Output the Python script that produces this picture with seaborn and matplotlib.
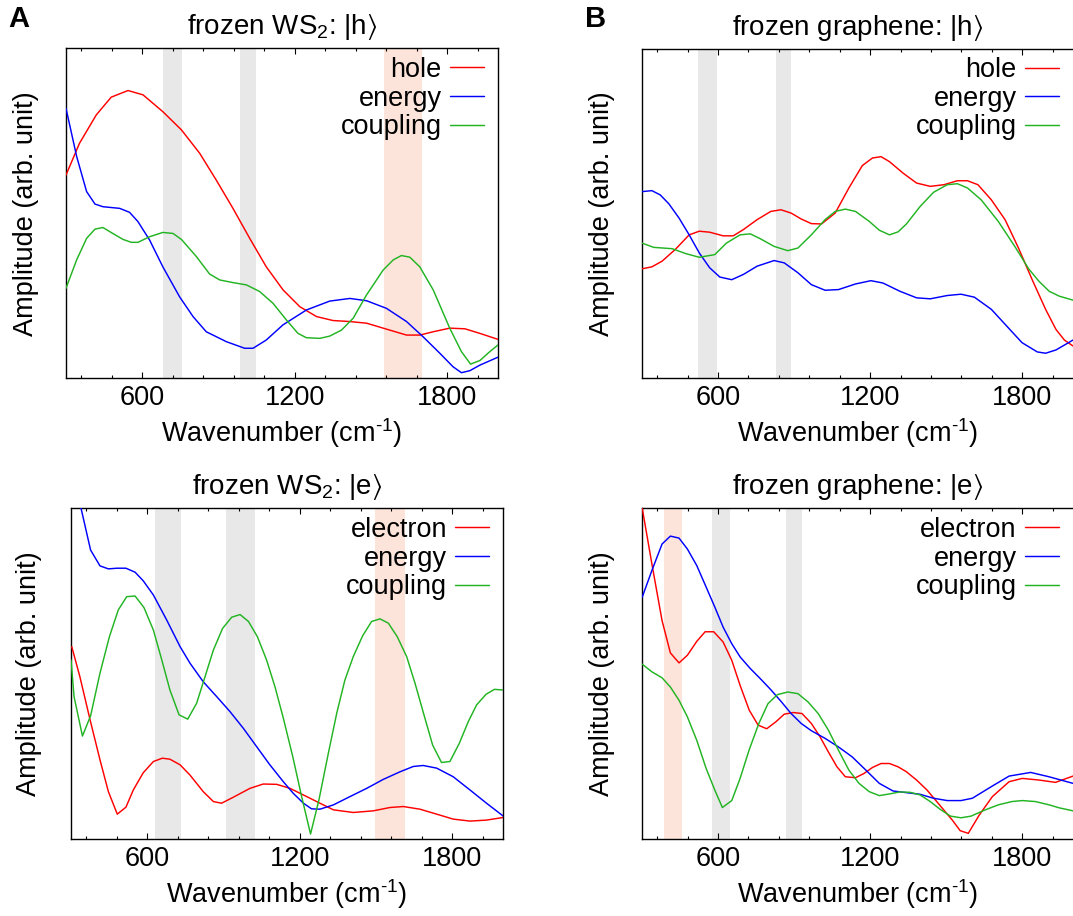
import matplotlib
matplotlib.use("Agg")
import matplotlib.pyplot as plt
import seaborn as sns

# ---------------- data (wavenumber in cm^-1, amplitude in arbitrary units 0-100) ----------------
# Panel A top: frozen WS2 |h>
ws2_h_hole_x = [300, 353, 419, 478, 544, 603, 681, 754, 826, 891, 957, 1023, 1088, 1154, 1220, 1286, 1351, 1417, 1483, 1548, 1640, 1692, 1745, 1810, 1870, 1929, 2000]
ws2_h_hole_y = [61.6, 71.2, 79.8, 85.2, 87.2, 85.9, 80.8, 75.3, 68.2, 60.1, 51.5, 42.4, 33.8, 26.8, 21.7, 18.7, 17.5, 17.2, 16.7, 15.2, 13.1, 13.1, 14.1, 15.2, 15.0, 13.6, 11.8]
ws2_h_energy_x = [300, 342, 381, 414, 445, 511, 550, 583, 629, 681, 747, 800, 852, 931, 1003, 1036, 1088, 1154, 1246, 1338, 1417, 1483, 1561, 1640, 1705, 1771, 1823, 1856, 1889, 1929, 2000]
ws2_h_energy_y = [81.8, 67.2, 56.6, 52.8, 52.0, 51.5, 50.3, 47.5, 41.9, 33.8, 24.7, 18.7, 14.1, 11.1, 9.1, 9.1, 11.6, 16.2, 20.7, 23.4, 24.2, 23.5, 21.2, 17.2, 12.6, 7.6, 3.5, 1.7, 2.3, 4.0, 6.4]
ws2_h_coupling_x = [300, 342, 381, 414, 445, 484, 524, 557, 583, 629, 681, 721, 754, 813, 865, 905, 957, 1010, 1062, 1115, 1167, 1213, 1246, 1299, 1338, 1384, 1430, 1483, 1548, 1588, 1620, 1653, 1692, 1745, 1810, 1856, 1892, 1929, 1968, 2000]
ws2_h_coupling_y = [27.3, 35.9, 42.4, 45.2, 45.7, 43.9, 42.1, 41.2, 41.2, 42.9, 44.2, 43.9, 42.1, 36.9, 31.6, 29.8, 29.0, 28.3, 26.3, 22.7, 17.7, 13.6, 12.3, 12.1, 12.8, 14.6, 18.2, 25.3, 32.8, 35.9, 37.2, 36.7, 33.8, 26.8, 15.2, 8.1, 4.3, 5.4, 8.1, 10.1]

# Panel B top: frozen graphene |h>
gr_h_hole_x = [300, 339, 379, 433, 486, 526, 567, 620, 660, 700, 754, 808, 848, 888, 928, 968, 1008, 1062, 1116, 1169, 1209, 1243, 1276, 1330, 1383, 1437, 1491, 1544, 1584, 1625, 1678, 1732, 1785, 1839, 1892, 1933, 1966, 2000]
gr_h_hole_y = [33.2, 33.8, 35.5, 39.2, 43.5, 44.6, 44.3, 43.2, 43.2, 45.1, 48.1, 50.6, 51.1, 50.1, 48.3, 46.9, 46.8, 50.1, 57.7, 64.5, 66.8, 67.2, 65.7, 62.2, 59.2, 58.2, 58.7, 59.9, 59.9, 58.7, 54.1, 48.1, 39.5, 29.9, 20.9, 14.8, 11.6, 9.8]
gr_h_energy_x = [300, 339, 372, 406, 446, 486, 526, 567, 607, 654, 700, 754, 821, 861, 915, 968, 1022, 1075, 1142, 1203, 1250, 1317, 1383, 1437, 1504, 1558, 1611, 1678, 1745, 1799, 1859, 1892, 1933, 2000]
gr_h_energy_y = [56.6, 56.9, 55.6, 52.9, 48.6, 43.5, 38.0, 33.5, 30.7, 29.9, 31.5, 34.0, 35.7, 35.0, 32.0, 28.4, 26.7, 26.9, 28.6, 29.6, 28.9, 26.4, 24.4, 24.1, 25.1, 25.5, 24.6, 20.9, 15.3, 10.8, 8.0, 7.6, 8.6, 11.6]
gr_h_coupling_x = [300, 346, 419, 473, 526, 587, 633, 687, 727, 767, 821, 875, 915, 968, 1022, 1062, 1102, 1142, 1196, 1236, 1276, 1310, 1343, 1397, 1450, 1504, 1544, 1584, 1638, 1705, 1772, 1825, 1866, 1906, 1946, 2000]
gr_h_coupling_y = [41.0, 39.7, 39.3, 37.8, 36.7, 37.5, 41.0, 43.5, 43.8, 42.3, 40.0, 38.7, 39.5, 43.5, 48.1, 50.6, 51.3, 50.6, 47.6, 44.9, 43.5, 44.4, 46.8, 52.1, 56.4, 58.7, 59.0, 57.7, 54.1, 47.6, 39.8, 33.2, 29.4, 26.4, 24.9, 23.7]

# Panel A bottom: frozen WS2 |e>
ws2_e_electron_x = [303, 335, 375, 414, 447, 482, 516, 545, 584, 624, 659, 689, 729, 768, 820, 860, 892, 938, 1004, 1056, 1109, 1161, 1227, 1279, 1332, 1410, 1489, 1554, 1607, 1672, 1738, 1803, 1869, 1934, 2000]
ws2_e_electron_y = [58.2, 49.1, 36.1, 24.0, 14.4, 7.6, 9.7, 14.9, 20.1, 23.5, 24.5, 24.2, 22.5, 19.4, 14.4, 11.4, 10.9, 12.7, 15.4, 16.7, 16.6, 15.4, 12.9, 10.9, 8.9, 8.1, 8.6, 9.6, 9.9, 9.1, 7.6, 6.1, 5.5, 5.8, 6.6]
ws2_e_energy_x = [300, 338, 377, 414, 447, 480, 516, 552, 584, 624, 676, 729, 768, 820, 873, 925, 978, 1030, 1082, 1135, 1174, 1214, 1246, 1279, 1332, 1397, 1463, 1528, 1594, 1646, 1685, 1738, 1803, 1869, 1934, 2000]
ws2_e_energy_y = [113.0, 100.5, 87.4, 82.6, 81.7, 81.9, 81.9, 80.7, 78.1, 73.8, 66.3, 58.2, 53.2, 47.6, 43.1, 38.6, 33.5, 28.0, 22.5, 17.4, 13.9, 10.9, 9.2, 9.1, 10.4, 12.9, 15.4, 18.1, 20.4, 22.0, 22.3, 21.5, 18.9, 14.9, 10.9, 7.0]
ws2_e_coupling_x = [300, 312, 345, 377, 414, 451, 486, 519, 552, 587, 624, 657, 689, 725, 759, 794, 827, 860, 896, 932, 965, 998, 1033, 1069, 1102, 1135, 1172, 1207, 1242, 1275, 1312, 1345, 1377, 1410, 1447, 1482, 1515, 1548, 1583, 1620, 1653, 1688, 1722, 1757, 1790, 1827, 1862, 1895, 1932, 1965, 2000]
ws2_e_coupling_y = [54.2, 43.1, 31.2, 37.3, 50.2, 61.2, 69.3, 73.3, 73.5, 70.0, 63.2, 54.2, 45.1, 37.6, 36.3, 41.1, 49.1, 57.2, 63.7, 67.1, 67.9, 65.8, 61.2, 54.2, 46.1, 36.6, 25.0, 12.9, 1.6, 11.9, 26.0, 38.1, 48.1, 55.2, 61.5, 65.8, 66.6, 65.3, 61.2, 55.2, 47.1, 37.6, 28.5, 23.2, 23.5, 29.0, 35.5, 40.6, 43.8, 45.3, 45.1]

# Panel B bottom: frozen graphene |e>
gr_e_electron_x = [301, 339, 379, 412, 446, 479, 516, 549, 583, 620, 654, 687, 723, 758, 792, 828, 861, 897, 931, 968, 1002, 1035, 1069, 1102, 1142, 1176, 1209, 1243, 1276, 1310, 1343, 1383, 1424, 1457, 1491, 1524, 1555, 1587, 1630, 1682, 1748, 1800, 1866, 1931, 2000]
gr_e_electron_y = [100.0, 83.2, 66.1, 56.3, 53.3, 55.6, 59.8, 62.7, 62.7, 59.6, 54.1, 46.5, 39.0, 34.5, 33.4, 35.5, 37.8, 38.3, 38.0, 35.0, 31.0, 26.4, 21.9, 18.9, 18.6, 19.9, 21.7, 22.9, 22.9, 21.9, 20.4, 17.9, 14.9, 11.9, 8.8, 5.8, 2.6, 1.8, 7.3, 12.9, 17.4, 18.4, 17.9, 17.2, 19.1]
gr_e_energy_x = [301, 339, 379, 412, 446, 479, 516, 553, 587, 620, 654, 687, 727, 767, 808, 848, 888, 928, 968, 1022, 1075, 1129, 1183, 1236, 1290, 1343, 1397, 1450, 1504, 1558, 1603, 1682, 1748, 1833, 1905, 2000]
gr_e_energy_y = [73.2, 81.2, 89.2, 91.6, 91.0, 87.7, 82.7, 76.2, 70.2, 64.1, 59.1, 55.1, 51.6, 48.5, 45.2, 41.7, 38.0, 35.0, 32.8, 30.5, 27.9, 24.9, 20.9, 16.9, 14.6, 14.1, 13.6, 12.4, 11.7, 11.7, 12.4, 16.1, 19.1, 20.2, 18.9, 16.9]
gr_e_coupling_x = [301, 339, 379, 412, 446, 479, 516, 553, 587, 617, 654, 687, 723, 761, 797, 834, 875, 915, 955, 995, 1035, 1075, 1116, 1156, 1196, 1236, 1276, 1316, 1357, 1397, 1437, 1477, 1517, 1558, 1598, 1651, 1705, 1759, 1800, 1852, 1906, 1946, 2000]
gr_e_coupling_y = [52.9, 50.6, 48.8, 46.0, 42.0, 37.0, 29.9, 21.4, 14.9, 9.6, 11.7, 18.4, 27.1, 35.0, 41.0, 43.7, 44.5, 44.0, 41.5, 38.0, 33.0, 26.9, 20.9, 16.9, 14.4, 13.2, 13.7, 14.3, 14.2, 13.4, 11.4, 9.0, 7.0, 6.5, 7.0, 8.8, 10.4, 11.4, 11.7, 11.4, 10.4, 9.5, 8.6]

# highlighted wavenumber bands (start, end)
ws2_h_gray = [(680, 755), (983, 1046)]
ws2_h_orange = [(1552, 1699)]
gr_h_gray = [(522, 596), (828, 889)]
gr_h_orange = []
ws2_e_gray = [(630, 734), (911, 1025)]
ws2_e_orange = [(1496, 1613)]
gr_e_gray = [(575, 648), (868, 931)]
gr_e_orange = [(388, 458)]

titles = [r"frozen WS$_2$: |h$\rangle$", r"frozen graphene: |h$\rangle$",
          r"frozen WS$_2$: |e$\rangle$", r"frozen graphene: |e$\rangle$"]
x_ticks = [600, 1200, 1800]
x_label = r"Wavenumber (cm$^{\text{-1}}$)"
y_label = "Amplitude (arb. unit)"
panel_letters = ["A", "B"]

# ---------------- style ----------------
sns.set_theme(style="white")
plt.rcParams["font.family"] = ["Liberation Sans", "DejaVu Sans"]
plt.rcParams["mathtext.fontset"] = "custom"
plt.rcParams["mathtext.rm"] = "Liberation Sans"
plt.rcParams["mathtext.it"] = "Liberation Sans:italic"
plt.rcParams["mathtext.bf"] = "Liberation Sans:bold"
plt.rcParams["mathtext.default"] = "regular"
plt.rcParams["text.color"] = "black"
plt.rcParams["axes.labelcolor"] = "black"
plt.rcParams["xtick.color"] = "black"
plt.rcParams["ytick.color"] = "black"

RED, BLUE, GREEN = "#ff0000", "#0000ff", "#22b422"
GRAY_BAND, ORANGE_BAND = "#e8e8e8", "#fde4da"
FS = 19.5

W, H = 1073, 916
fig = plt.figure(figsize=(W / 100, H / 100), dpi=100)


def px_axes(left, top, right, bottom):
    return fig.add_axes([left / W, 1 - bottom / H, (right - left) / W, (bottom - top) / H])


axes = [
    px_axes(66, 48.3, 498, 378.3),
    px_axes(642, 48.5, 1073, 378.3),
    px_axes(71, 508.3, 503.3, 839.3),
    px_axes(642, 508.3, 1073, 839.3),
]

panels = [
    (ws2_h_gray, ws2_h_orange, [(ws2_h_hole_x, ws2_h_hole_y, RED, "hole"),
                                (ws2_h_energy_x, ws2_h_energy_y, BLUE, "energy"),
                                (ws2_h_coupling_x, ws2_h_coupling_y, GREEN, "coupling")]),
    (gr_h_gray, gr_h_orange, [(gr_h_hole_x, gr_h_hole_y, RED, "hole"),
                              (gr_h_energy_x, gr_h_energy_y, BLUE, "energy"),
                              (gr_h_coupling_x, gr_h_coupling_y, GREEN, "coupling")]),
    (ws2_e_gray, ws2_e_orange, [(ws2_e_electron_x, ws2_e_electron_y, RED, "electron"),
                                (ws2_e_energy_x, ws2_e_energy_y, BLUE, "energy"),
                                (ws2_e_coupling_x, ws2_e_coupling_y, GREEN, "coupling")]),
    (gr_e_gray, gr_e_orange, [(gr_e_electron_x, gr_e_electron_y, RED, "electron"),
                              (gr_e_energy_x, gr_e_energy_y, BLUE, "energy"),
                              (gr_e_coupling_x, gr_e_coupling_y, GREEN, "coupling")]),
]

ylabel_x = [-0.063, -0.062, -0.067, -0.062]

for i, (ax, (grays, oranges, series)) in enumerate(zip(axes, panels)):
    for a, b in grays:
        ax.axvspan(a, b, color=GRAY_BAND, lw=0, zorder=0)
    for a, b in oranges:
        ax.axvspan(a, b, color=ORANGE_BAND, lw=0, zorder=0)
    for xs, ys, c, lab in series:
        sns.lineplot(x=xs, y=ys, ax=ax, color=c, linewidth=1.05, label=lab,
                     sort=False, estimator=None, zorder=3)
    ax.set_xlim(300, 2000)
    ax.set_ylim(0, 100)
    ax.set_yticks([])
    ax.set_xticks(x_ticks)
    ax.set_xticks(range(360, 2000, 120), minor=True)
    ax.tick_params(axis="x", which="both", direction="in", top=True, bottom=True,
                   labelsize=FS, pad=4.5, colors="black", width=0.8)
    ax.tick_params(axis="x", which="major", length=4.5)
    ax.tick_params(axis="x", which="minor", length=2.3)
    for sp in ax.spines.values():
        sp.set_color("black")
        sp.set_linewidth(1.0)
    if i in (1, 3):
        ax.spines["right"].set_visible(False)
    ax.set_title(titles[i], fontsize=FS + 0.5, pad=10, color="black")
    ax.set_xlabel(x_label, fontsize=FS, labelpad=4)
    ax.set_ylabel(y_label, fontsize=FS)
    ax.yaxis.set_label_coords(ylabel_x[i], 0.5)
    handles, labels = ax.get_legend_handles_labels()
    leg = ax.legend(handles, labels, loc="upper right", bbox_to_anchor=(0.968, 0.974),
                    frameon=False, markerfirst=False, fontsize=FS, borderpad=0,
                    borderaxespad=0, handlelength=1.26, handletextpad=0.31,
                    labelspacing=0.1)
    for t in leg.get_texts():
        t.set_color("black")

fig.text(8 / W, 1 - 5 / H, panel_letters[0], fontsize=21, fontweight="bold", va="top", ha="left", color="black")
fig.text(585 / W, 1 - 5 / H, panel_letters[1], fontsize=21, fontweight="bold", va="top", ha="left", color="black")

fig.savefig("out.png", dpi=100)
